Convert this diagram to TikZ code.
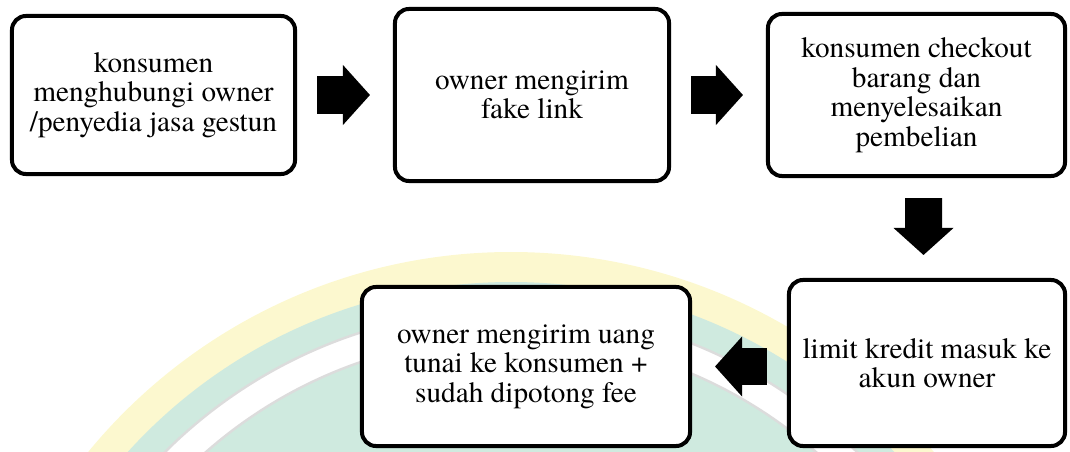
\documentclass[tikz,border=0pt]{standalone}
\usepackage{fontspec}
\setmainfont{TeX Gyre Termes}
\usetikzlibrary{arrows.meta, calc, positioning}
\definecolor{WmYel}{HTML}{FCF8CF}
\definecolor{WmGrn}{HTML}{CFEADF}
\definecolor{WmGry}{HTML}{DCDCDC}
\newcommand\flowfont{\fontsize{20.8pt}{21pt}\selectfont}
\tikzset{
  stepbox/.style args={#1/#2}{
    rectangle, rounded corners=0.35cm,
    draw=black, fill=white, text=black,
    font=\flowfont, align=center,
    inner sep=0pt, minimum width=#1, minimum height=#2,
    line width=0.1cm,
  },
  blkarr/.style={
    -{Triangle[length=0.675cm,width=1.5cm,line width=0pt]},
    line width=0.925cm, color=black,
    shorten <=0.5cm, shorten >=0.575cm,
  },
}
\begin{document}
\begin{tikzpicture}[x=0.025cm,y=-0.025cm]
    \useasboundingbox (0,0) rectangle (1070,452);
    % faint logo behind the chart
    \begin{scope}
      \clip (0,0) rectangle (1070,452);
      \fill[WmYel] (511,799) circle (547);
      \fill[WmGrn] (511,799) circle (517);
      \filldraw[fill=white,draw=WmGry,line width=0.06cm] (511,799) circle (490);
      \filldraw[fill=WmGrn,draw=WmGry,line width=0.06cm] (511,799) circle (462);
    \end{scope}

    \node[stepbox={7.075cm}/{3.95cm}] (hub) at (153.5,95) {konsumen\\menghubungi owner\\/penyedia jasa gestun};
    \node[stepbox={6.85cm}/{4.3cm}] (link) at (532,95) {owner mengirim\\fake link};
    \node[stepbox={7.425cm}/{4.05cm}] (chk) at (916.5,95) {konsumen checkout\\barang dan\\menyelesaikan\\pembelian};
    \node[stepbox={6.9cm}/{4.15cm}] (lim) at (927,363) {limit kredit masuk ke\\akun owner};
    \node[stepbox={8.2cm}/{3.975cm}] (cair) at (526,366.5) {owner mengirim uang\\tunai ke konsumen +\\sudah dipotong fee};

    \draw[blkarr](hub)--(link); \draw[blkarr](link)--(chk);
    \draw[blkarr]([xshift=0.175cm]chk.south)--([xshift=-0.0875cm]lim.north);
    \draw[blkarr](lim.west |- cair.east)--(cair.east);
\end{tikzpicture}
\end{document}
